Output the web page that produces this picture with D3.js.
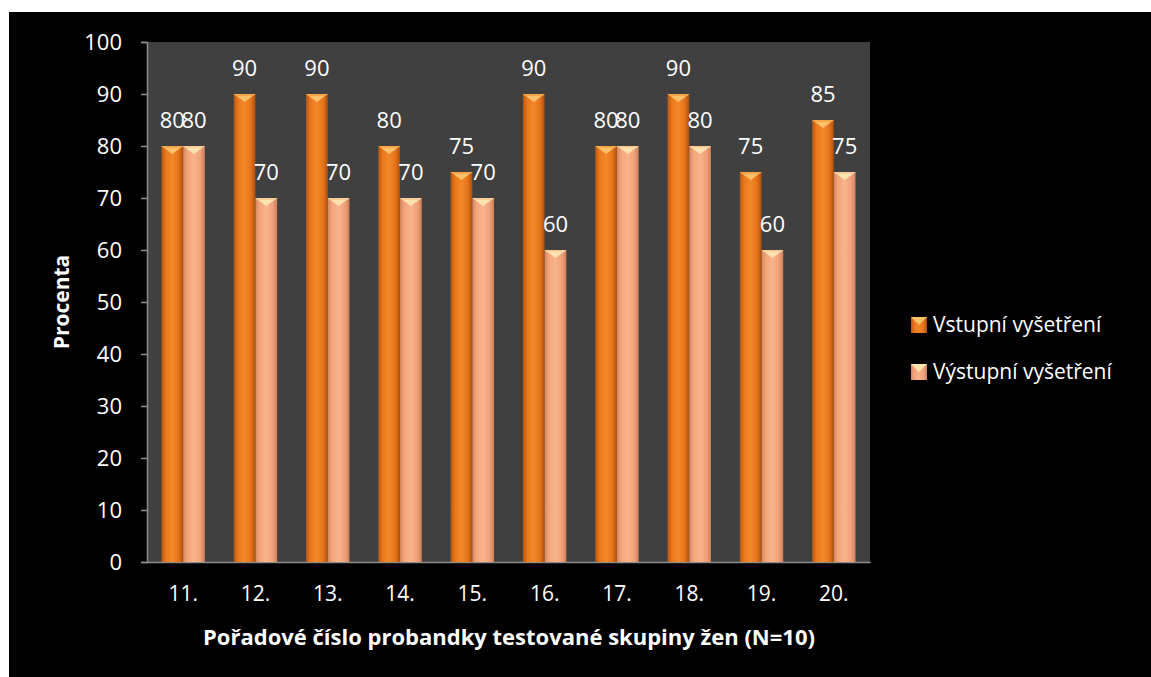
<!DOCTYPE html>
<html>
<head>
<meta charset="utf-8">
<script src="https://cdn.jsdelivr.net/npm/d3@7"></script>
<style>
  html, body { margin: 0; padding: 0; background: #ffffff; }
  svg { display: block; }
  text { font-family: "Open Sans", sans-serif; }
</style>
</head>
<body>
<svg id="chart" width="1151" height="677"></svg>
<script>
// Participant numbers and examination results (percent)
const categories = ["11.", "12.", "13.", "14.", "15.", "16.", "17.", "18.", "19.", "20."];
const entryExam = [80, 90, 90, 80, 75, 90, 80, 90, 75, 85];
const exitExam = [80, 70, 70, 70, 70, 60, 80, 80, 60, 75];
const seriesNames = ["Vstupní vyšetření", "Výstupní vyšetření"];
const yTicks = [0, 10, 20, 30, 40, 50, 60, 70, 80, 90, 100];

const FONT = "'Open Sans', sans-serif";
const svg = d3.select("#chart");
const W = 1151, H = 677;

// Black chart background inside a thin white margin
svg.append("rect").attr("x", 9).attr("y", 12).attr("width", W - 9).attr("height", H - 12).attr("fill", "#000");

const plot = { left: 147, right: 870, top: 42, bottom: 562 };

const x = d3.scaleBand().domain(categories).range([plot.left, plot.right]).paddingInner(0.4).paddingOuter(0.2);
const xs = d3.scaleBand().domain([0, 1]).range([0, x.bandwidth()]);
const y = d3.scaleLinear().domain([0, 100]).range([plot.bottom, plot.top]);

// Gradients giving the bars a rounded, lit look
const defs = svg.append("defs");
const palettes = [
  { id: "g0", stops: ["#b8560f", "#ea781c", "#f3892a", "#e4721a", "#a94f0e"], tip: "#fbc06a", tipEdge: "#f59b3a" },
  { id: "g1", stops: ["#d5875f", "#f3a57c", "#f8b48c", "#f0a079", "#cc805b"], tip: "#fde3b0", tipEdge: "#f8c494" }
];
palettes.forEach(p => {
  const g = defs.append("linearGradient").attr("id", p.id).attr("x1", "0").attr("x2", "1").attr("y1", "0").attr("y2", "0");
  [0, 0.2, 0.5, 0.8, 1].forEach((o, i) => g.append("stop").attr("offset", o).attr("stop-color", p.stops[i]));
});

// Plot area
svg.append("rect")
  .attr("x", plot.left).attr("y", plot.top)
  .attr("width", plot.right - plot.left).attr("height", plot.bottom - plot.top)
  .attr("fill", "#404040");

// Y axis
const yAxis = svg.append("g").attr("transform", `translate(${plot.left},0)`)
  .call(d3.axisLeft(y).tickValues(yTicks).tickSize(6).tickPadding(19));
yAxis.select(".domain").attr("stroke", "#8c8c8c").attr("stroke-width", 1.5);
yAxis.selectAll(".tick line").attr("stroke", "#8c8c8c").attr("stroke-width", 1.5);
yAxis.selectAll(".tick text").attr("fill", "#fff").attr("font-size", 22).attr("font-family", FONT);

// X axis
const xAxis = svg.append("g").attr("transform", `translate(0,${plot.bottom})`)
  .call(d3.axisBottom(x).tickSize(0).tickPadding(24));
xAxis.select(".domain").attr("stroke", "#8c8c8c").attr("stroke-width", 1.5);
xAxis.selectAll(".tick text").attr("fill", "#fff").attr("font-size", 21).attr("font-family", FONT);

// Bars
const series = [entryExam, exitExam];
series.forEach((vals, si) => {
  const p = palettes[si];
  const g = svg.append("g");
  const bw = xs.bandwidth();
  vals.forEach((v, i) => {
    const bx = x(categories[i]) + xs(si);
    const by = y(v);
    g.append("rect").attr("x", bx).attr("y", by).attr("width", bw).attr("height", y(0) - by)
      .attr("fill", `url(#${p.id})`);
    // bevelled top
    g.append("path")
      .attr("d", `M${bx},${by} L${bx + bw},${by} L${bx + bw / 2},${by + 8} Z`)
      .attr("fill", p.tip);
    g.append("path")
      .attr("d", `M${bx},${by} L${bx + bw},${by} L${bx + bw - 2},${by + 2} L${bx + 2},${by + 2} Z`)
      .attr("fill", p.tipEdge).attr("opacity", 0.7);
  });
});

// Value labels
series.forEach((vals, si) => {
  svg.append("g").selectAll("text").data(vals).join("text")
    .attr("x", (d, i) => x(categories[i]) + xs(si) + xs.bandwidth() / 2)
    .attr("y", d => y(d) - 18)
    .attr("text-anchor", "middle")
    .attr("fill", "#fff")
    .attr("font-size", 22)
    .text(d => d);
});

// Axis titles
svg.append("text")
  .attr("x", 509).attr("y", 645)
  .attr("text-anchor", "middle").attr("fill", "#fff")
  .attr("font-size", 22).attr("font-weight", "bold")
  .text("Pořadové číslo probandky testované skupiny žen (N=10)");

svg.append("text")
  .attr("transform", `translate(69,${(plot.top + plot.bottom) / 2}) rotate(-90)`)
  .attr("text-anchor", "middle").attr("fill", "#fff")
  .attr("font-size", 21).attr("font-weight", "bold")
  .text("Procenta");

// Legend
const legend = svg.append("g");
seriesNames.forEach((name, si) => {
  const ly = 317 + si * 47;
  const p = palettes[si];
  legend.append("rect").attr("x", 911).attr("y", ly).attr("width", 16).attr("height", 16).attr("fill", `url(#${p.id})`);
  legend.append("path").attr("d", `M911,${ly} L927,${ly} L919,${ly + 8} Z`).attr("fill", p.tip);
  legend.append("text").attr("x", 933).attr("y", ly + 15).attr("fill", "#fff").attr("font-size", 21).text(name);
});
</script>
</body>
</html>
